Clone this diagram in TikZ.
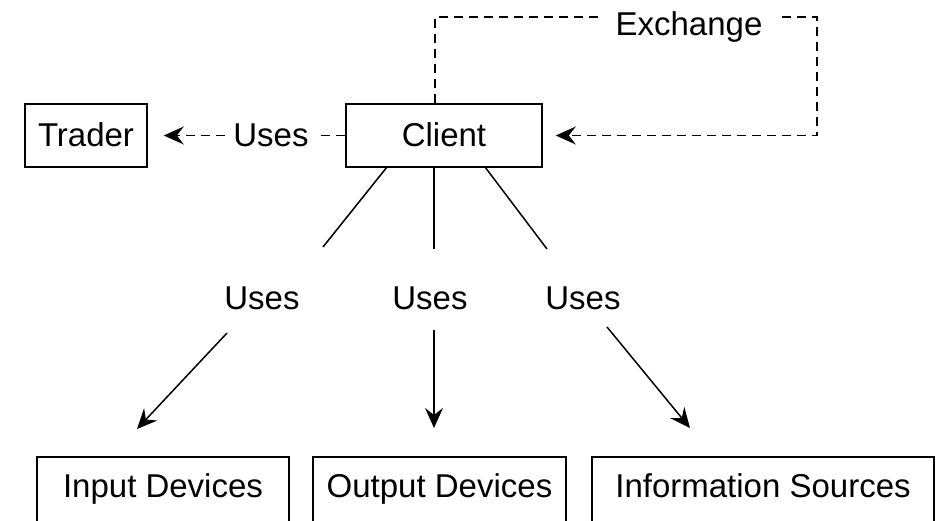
\documentclass[tikz,border=0pt]{standalone}
\usepackage{fontspec}
\setmainfont{Liberation Sans}
\usetikzlibrary{arrows.meta,calc}

\begin{document}
\begin{tikzpicture}[x=1pt,y=-1pt,
  every node/.style={font=\fontsize{33}{40}\selectfont},
  box/.style={draw,line width=1.6pt,inner sep=0pt,anchor=base},
  lbl/.style={inner sep=0pt,anchor=base},
  conn/.style={line width=1.5pt},
  dline/.style={conn,dash pattern=on 9pt off 6pt},
  tip/.style={-{Stealth[length=20pt,width=18pt,inset=7pt]}}
]
\useasboundingbox (0,0) rectangle (941,521);
\clip (0,0) rectangle (941,521);

% boxes
\node[box,minimum width=122pt,text height=43pt,text depth=20pt] (trader) at (86,147) {Trader};
\node[box,minimum width=196pt,text height=43pt,text depth=20pt] (client) at (444,147) {Client};
\node[box,minimum width=252pt,text height=40pt,text depth=40pt] (input) at (163,497) {Input Devices};
\node[box,minimum width=253pt,text height=40pt,text depth=40pt] (output) at (439.5,497) {Output Devices};
\node[box,minimum width=342pt,text height=40pt,text depth=40pt] (info) at (763,497) {Information Sources};

% labels
\node[lbl] (lt) at (271,147) {Uses};
\node[lbl] (ex) at (689,36) {Exchange};
\node[lbl] (u1) at (262,309) {Uses};
\node[lbl] (u2) at (430,309) {Uses};
\node[lbl] (u3) at (583,309) {Uses};

% Client uses Trader
\draw[dline] (client.west) -- ($(client.west -| lt.east)+(7,0)$);
\draw[dline,tip] ($(client.west -| lt.west)+(-8,0)$) -- ($(trader.east |- client.west)+(16,0)$);

% Exchange loop
\coordinate (e1) at (435,17);
\coordinate (e2) at (817,17);
\draw[dline] (client.north -| e1) -- (e1) -- ($(ex.west |- e1)+(-17,0)$);
\draw[dline,tip] ($(ex.east |- e1)+(19,0)$) -- (e2) -- (e2 |- client.east) -- ($(client.east)+(13,0)$);

% Client uses the three lower groups
\coordinate (a1) at (387,167);  \coordinate (b1) at (323,247);
\coordinate (c1) at (227,333);  \coordinate (d1) at (137,429);
\coordinate (a2) at (434,167);  \coordinate (b2) at (434,249);
\coordinate (c2) at (434,330);  \coordinate (d2) at (434,428);
\coordinate (a3) at (485,167);  \coordinate (b3) at (547,249);
\coordinate (c3) at (607,327);  \coordinate (d3) at (690,428);
\draw[conn] (a1) -- (b1);
\draw[conn] (a2) -- (b2);
\draw[conn] (a3) -- (b3);
\draw[conn,tip] (c1) -- (d1);
\draw[conn,tip] (c2) -- (d2);
\draw[conn,tip] (c3) -- (d3);
\end{tikzpicture}
\end{document}
